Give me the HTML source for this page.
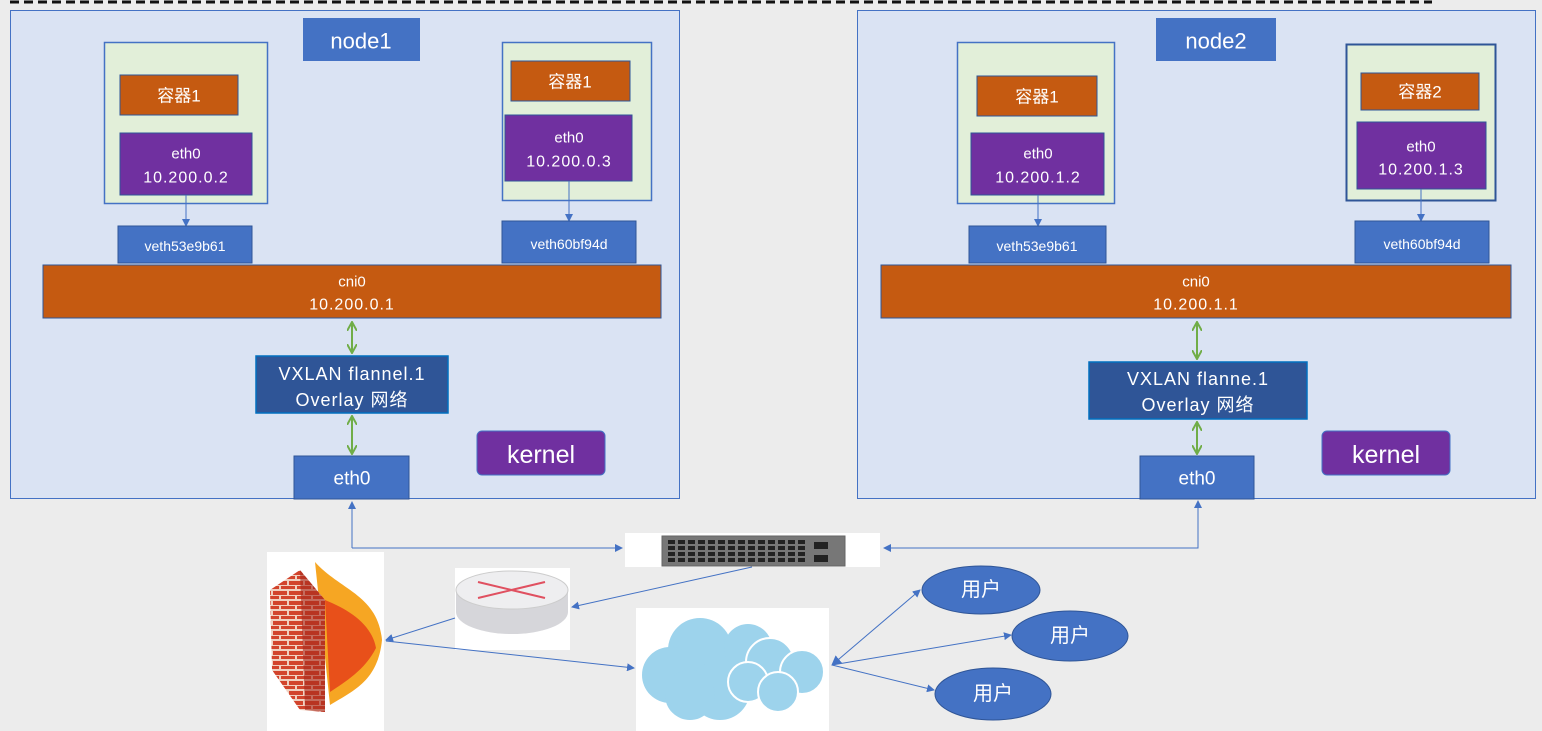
<!DOCTYPE html>
<html><head><meta charset="utf-8"><style>
html,body{margin:0;padding:0;background:#ececec;}
svg{display:block}
text{font-family:"Liberation Sans","Noto Sans CJK SC",sans-serif;fill:#fff;text-anchor:middle;dominant-baseline:central;}
</style></head><body>
<svg width="1542" height="731" viewBox="0 0 1542 731" xmlns="http://www.w3.org/2000/svg">
<defs>
<marker id="ab" markerWidth="8" markerHeight="8" refX="7" refY="4" orient="auto" markerUnits="userSpaceOnUse"><path d="M0,0 L8,4 L0,8 z" fill="#4472c4"/></marker>
<marker id="ag" markerWidth="10" markerHeight="10" refX="9" refY="5" orient="auto-start-reverse" markerUnits="userSpaceOnUse"><path d="M0,0 L9,5 L0,10" fill="none" stroke="#70ad47" stroke-width="2"/></marker>
<marker id="ab2" markerWidth="10" markerHeight="10" refX="9" refY="5" orient="auto-start-reverse" markerUnits="userSpaceOnUse"><path d="M0,0 L10,5 L0,10 z" fill="#4472c4"/></marker>
<pattern id="ports" x="667" y="539" width="10" height="6" patternUnits="userSpaceOnUse"><rect width="10" height="6" fill="#777"/><rect x="1" y="1" width="7" height="4" fill="#222"/></pattern>
<pattern id="brick" x="0" y="0" width="16" height="10" patternUnits="userSpaceOnUse"><rect width="16" height="10" fill="#f0d0c0"/><rect x="1" y="1" width="14" height="4" fill="#d2442c"/><rect x="-7" y="6" width="14" height="3" fill="#d2442c"/><rect x="9" y="6" width="14" height="3" fill="#d2442c"/></pattern>
</defs>
<rect width="1542" height="731" fill="#ececec"/>
<line x1="10" y1="2" x2="1432" y2="2" stroke="#111" stroke-width="3" stroke-dasharray="9,5"/>

<!-- node1 -->
<rect x="10.5" y="10.5" width="669" height="488" fill="#dae3f3" stroke="#4472c4"/>
<rect x="303" y="18" width="117" height="43" fill="#4472c4"/><text x="361" y="41" font-size="22">node1</text>
<rect x="104.5" y="42.5" width="163" height="161" fill="#e2efd9" stroke="#4472c4" stroke-width="1.5"/>
<rect x="120" y="75" width="118" height="40" fill="#c55a11" stroke="#2f5597"/><text x="179" y="96" font-size="17">容器1</text>
<rect x="120" y="133" width="132" height="62" fill="#7030a0" stroke="#2f5597"/><text x="186" y="154" font-size="15">eth0</text><text x="186" y="178" font-size="16" letter-spacing="1">10.200.0.2</text>
<rect x="502.5" y="42.5" width="149" height="158" fill="#e2efd9" stroke="#4472c4" stroke-width="1.5"/>
<rect x="511" y="61" width="119" height="40" fill="#c55a11" stroke="#2f5597"/><text x="570" y="82" font-size="17">容器1</text>
<rect x="505" y="115" width="127" height="66" fill="#7030a0" stroke="#2f5597"/><text x="569" y="138" font-size="15">eth0</text><text x="569" y="162" font-size="16" letter-spacing="1">10.200.0.3</text>
<line x1="186" y1="195" x2="186" y2="226" stroke="#4472c4" marker-end="url(#ab)"/>
<line x1="569" y1="181" x2="569" y2="221" stroke="#4472c4" marker-end="url(#ab)"/>
<rect x="118" y="226" width="134" height="37" fill="#4472c4" stroke="#2f5597"/><text x="185" y="246" font-size="14">veth53e9b61</text>
<rect x="502" y="221" width="134" height="42" fill="#4472c4" stroke="#2f5597"/><text x="569" y="244" font-size="14">veth60bf94d</text>
<rect x="43" y="265" width="618" height="53" fill="#c55a11" stroke="#2f5597"/><text x="352" y="282" font-size="15">cni0</text><text x="352" y="305" font-size="16" letter-spacing="1">10.200.0.1</text>
<line x1="352" y1="322" x2="352" y2="353" stroke="#70ad47" stroke-width="2" marker-start="url(#ag)" marker-end="url(#ag)"/>
<rect x="256" y="356" width="192" height="57" fill="#2f5597" stroke="#0070c0" stroke-width="1.5"/><text x="352" y="374" font-size="18" letter-spacing="1">VXLAN flannel.1</text><text x="352" y="400" font-size="18" letter-spacing="1">Overlay 网络</text>
<line x1="352" y1="416" x2="352" y2="454" stroke="#70ad47" stroke-width="2" marker-start="url(#ag)" marker-end="url(#ag)"/>
<rect x="477" y="431" width="128" height="44" rx="5" fill="#7030a0" stroke="#4472c4"/><text x="541" y="455" font-size="25">kernel</text>
<rect x="294" y="456" width="115" height="43" fill="#4472c4" stroke="#2f5597"/><text x="352" y="479" font-size="19">eth0</text>

<!-- node2 -->
<rect x="857.5" y="10.5" width="678" height="488" fill="#dae3f3" stroke="#4472c4"/>
<rect x="1156" y="18" width="120" height="43" fill="#4472c4"/><text x="1216" y="41" font-size="22">node2</text>
<rect x="957.5" y="42.5" width="157" height="161" fill="#e2efd9" stroke="#4472c4" stroke-width="1.5"/>
<rect x="977" y="76" width="120" height="40" fill="#c55a11" stroke="#2f5597"/><text x="1037" y="97" font-size="17">容器1</text>
<rect x="971" y="133" width="133" height="62" fill="#7030a0" stroke="#2f5597"/><text x="1038" y="154" font-size="15">eth0</text><text x="1038" y="178" font-size="16" letter-spacing="1">10.200.1.2</text>
<rect x="1346.5" y="44.5" width="149" height="156" fill="#e2efd9" stroke="#2f5597" stroke-width="2"/>
<rect x="1361" y="73" width="118" height="37" fill="#c55a11" stroke="#2f5597"/><text x="1420" y="92" font-size="17">容器2</text>
<rect x="1357" y="122" width="129" height="67" fill="#7030a0" stroke="#2f5597"/><text x="1421" y="147" font-size="15">eth0</text><text x="1421" y="170" font-size="16" letter-spacing="1">10.200.1.3</text>
<line x1="1038" y1="195" x2="1038" y2="226" stroke="#4472c4" marker-end="url(#ab)"/>
<line x1="1421" y1="189" x2="1421" y2="221" stroke="#4472c4" marker-end="url(#ab)"/>
<rect x="969" y="226" width="137" height="37" fill="#4472c4" stroke="#2f5597"/><text x="1037" y="246" font-size="14">veth53e9b61</text>
<rect x="1355" y="221" width="134" height="42" fill="#4472c4" stroke="#2f5597"/><text x="1422" y="244" font-size="14">veth60bf94d</text>
<rect x="881" y="265" width="630" height="53" fill="#c55a11" stroke="#2f5597"/><text x="1196" y="282" font-size="15">cni0</text><text x="1196" y="305" font-size="16" letter-spacing="1">10.200.1.1</text>
<line x1="1197" y1="322" x2="1197" y2="359" stroke="#70ad47" stroke-width="2" marker-start="url(#ag)" marker-end="url(#ag)"/>
<rect x="1089" y="362" width="218" height="57" fill="#2f5597" stroke="#0070c0" stroke-width="1.5"/><text x="1198" y="379" font-size="18" letter-spacing="1">VXLAN flanne.1</text><text x="1198" y="405" font-size="18" letter-spacing="1">Overlay 网络</text>
<line x1="1197" y1="422" x2="1197" y2="454" stroke="#70ad47" stroke-width="2" marker-start="url(#ag)" marker-end="url(#ag)"/>
<rect x="1322" y="431" width="128" height="44" rx="5" fill="#7030a0" stroke="#4472c4"/><text x="1386" y="455" font-size="25">kernel</text>
<rect x="1140" y="456" width="114" height="43" fill="#4472c4" stroke="#2f5597"/><text x="1197" y="479" font-size="19">eth0</text>

<!-- bottom connections -->
<polyline points="352,548 352,502" fill="none" stroke="#4472c4" marker-end="url(#ab)"/>
<polyline points="352,548 622,548" fill="none" stroke="#4472c4" marker-end="url(#ab)"/>
<polyline points="1198,502 1198,548 884,548" fill="none" stroke="#4472c4" marker-end="url(#ab)"/>
<line x1="1198" y1="548" x2="1198" y2="501" stroke="#4472c4" marker-end="url(#ab)"/>
<rect x="625" y="533" width="255" height="34" fill="#fff"/>
<rect x="662" y="536" width="183" height="30" fill="#777" stroke="#666"/>
<rect x="667" y="539" width="140" height="24" fill="url(#ports)"/>
<rect x="814" y="542" width="14" height="7" fill="#222"/><rect x="814" y="555" width="14" height="7" fill="#222"/>
<line x1="752" y1="567" x2="572" y2="607" stroke="#4472c4" marker-end="url(#ab)"/>
<!-- router -->
<rect x="455" y="568" width="115" height="82" fill="#fff"/>
<ellipse cx="512" cy="612" rx="56" ry="22" fill="#d6d6da"/>
<rect x="456" y="590" width="112" height="22" fill="#d6d6da"/>
<ellipse cx="512" cy="590" rx="56" ry="19" fill="#eeeef0" stroke="#ccc"/>
<path d="M478,582 L545,598 M478,598 L545,582" stroke="#e05060" stroke-width="2"/>
<!-- firewall -->
<rect x="267" y="552" width="117" height="179" fill="#fff"/>
<path d="M315,562 C340,590 378,595 382,640 C378,680 355,690 330,705 Z" fill="#f6a623"/>
<path d="M325,600 C350,610 372,625 376,648 C365,670 345,682 330,692 Z" fill="#e8501a"/>
<polygon points="270,590 300,570 325,600 325,712 300,710 272,670" fill="url(#brick)"/>
<polygon points="300,570 325,600 325,712 305,710" fill="#a62a1c" opacity="0.6"/>
<line x1="455" y1="618" x2="386" y2="640" stroke="#4472c4" marker-end="url(#ab)"/>
<line x1="386" y1="641" x2="634" y2="668" stroke="#4472c4" marker-end="url(#ab)"/>
<!-- cloud -->
<rect x="636" y="608" width="193" height="123" fill="#fff"/>
<g fill="#9dd3ec">
<circle cx="700" cy="650" r="32"/><circle cx="670" cy="675" r="28"/><circle cx="720" cy="690" r="30"/><circle cx="748" cy="648" r="24"/><circle cx="690" cy="695" r="25"/>
</g>
<g fill="#9dd3ec" stroke="#fff" stroke-width="2">
<circle cx="770" cy="662" r="24"/><circle cx="748" cy="682" r="20"/><circle cx="802" cy="672" r="22"/><circle cx="778" cy="692" r="20"/>
</g>
<line x1="832" y1="665" x2="920" y2="590" stroke="#4472c4" marker-start="url(#ab2)" marker-end="url(#ab)"/>
<line x1="832" y1="665" x2="1011" y2="635" stroke="#4472c4" marker-end="url(#ab)"/>
<line x1="832" y1="665" x2="934" y2="690" stroke="#4472c4" marker-end="url(#ab)"/>
<ellipse cx="981" cy="590" rx="59" ry="24" fill="#4472c4" stroke="#2f5597"/><text x="981" y="590" font-size="20">用户</text>
<ellipse cx="1070" cy="636" rx="58" ry="25" fill="#4472c4" stroke="#2f5597"/><text x="1070" y="636" font-size="20">用户</text>
<ellipse cx="993" cy="694" rx="58" ry="26" fill="#4472c4" stroke="#2f5597"/><text x="993" y="694" font-size="20">用户</text>
</svg>
</body></html>
